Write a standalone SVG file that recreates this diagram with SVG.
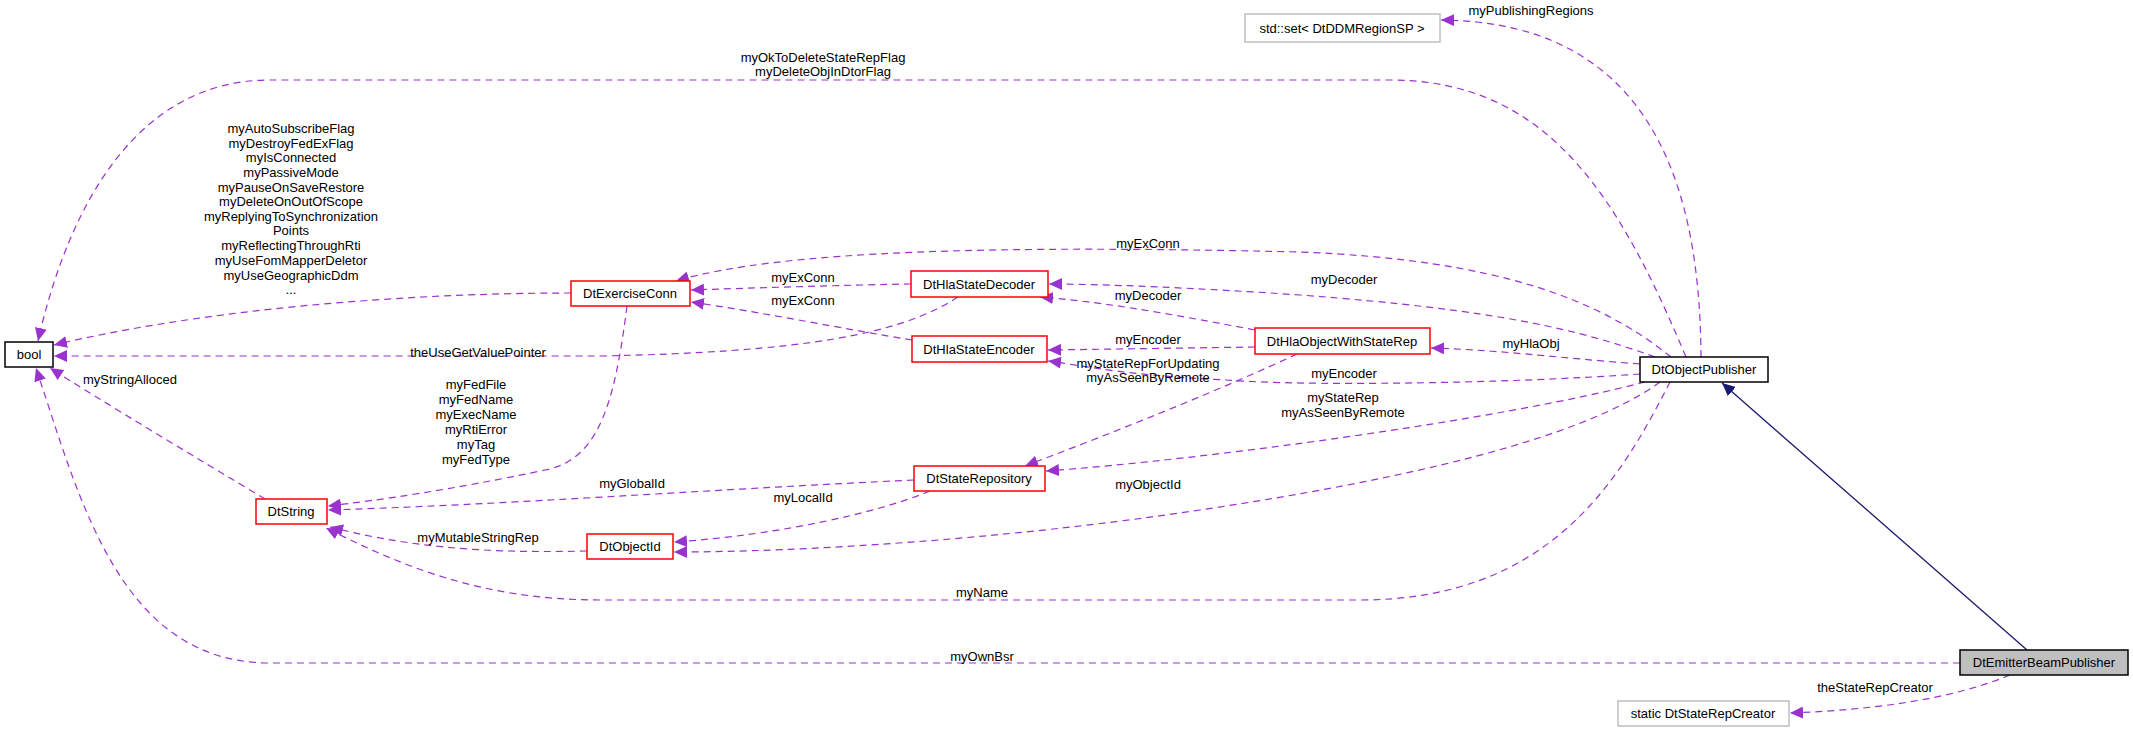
<svg xmlns="http://www.w3.org/2000/svg" width="2133" height="732" viewBox="0 0 2133 732">
<style>
text{font-family:"Liberation Sans",Arial,sans-serif;font-size:13px;fill:#000}
.n text,.lbl{text-anchor:middle}
.nb{fill:#fff;stroke:#000;stroke-width:1.5}
.nr{fill:#fff;stroke:#ff0000;stroke-width:1.5}
.ng{fill:#fff;stroke:#bfbfbf;stroke-width:1.5}
.ns{fill:#bfbfbf;stroke:#000;stroke-width:1.5}
.e{fill:none;stroke:#9a32cd;stroke-width:1.2;stroke-dasharray:7,5;marker-end:url(#ap)}
.inh{fill:none;stroke:#191970;stroke-width:1.3;marker-end:url(#an)}
</style>
<defs>
<marker id="ap" markerUnits="userSpaceOnUse" markerWidth="14" markerHeight="12" refX="13" refY="6" orient="auto"><path d="M0,0 L13,6 L0,12 Z" fill="#9a32cd"/></marker>
<marker id="an" markerUnits="userSpaceOnUse" markerWidth="14" markerHeight="12" refX="13" refY="6" orient="auto"><path d="M0,0 L13,6 L0,12 Z" fill="#191970"/></marker>
</defs>
<rect width="2133" height="732" fill="#fff"/>
<g id="connectors">
<path class="e" d="M1686,357 C1620,200 1550,80 1390,80 L270,80 C140,80 70,200 38,341"/>
<path class="e" d="M1701,357 C1700,200 1660,22 1441,20"/>
<path class="e" d="M571,293 C400,293 200,310 54,345"/>
<path class="e" d="M958,297 C900,335 800,352 600,356 L54,356"/>
<path class="e" d="M265,499 C200,460 100,400 50,368"/>
<path class="e" d="M627,306 C615,400 600,460 545,470 C450,490 380,500 328,506"/>
<path class="e" d="M914,480 C700,490 500,505 328,510"/>
<path class="e" d="M587,551 C500,553 420,550 330,527"/>
<path class="e" d="M1670,382 C1620,480 1550,600 1360,600 L600,600 C480,600 400,565 326,528"/>
<path class="e" d="M1960,663 L270,663 C120,663 80,500 36,368"/>
<path class="e" d="M911,284 C850,285 750,288 691,290"/>
<path class="e" d="M912,340 C850,330 760,312 691,302"/>
<path class="e" d="M1671,357 C1600,300 1500,260 1300,252 C1000,245 780,250 676,281"/>
<path class="e" d="M1655,357 C1580,330 1500,310 1300,295 C1200,288 1100,284 1049,284"/>
<path class="e" d="M1255,330 C1150,310 1100,302 1040,297"/>
<path class="e" d="M1640,364 C1560,358 1500,350 1431,348"/>
<path class="e" d="M1255,347 L1048,350"/>
<path class="e" d="M1640,374 C1500,384 1300,386 1226,380 C1120,375 1080,365 1048,361"/>
<path class="e" d="M1297,354 C1220,390 1120,430 1025,466"/>
<path class="e" d="M1645,382 C1500,420 1200,460 1046,471"/>
<path class="e" d="M1660,382 C1580,440 1400,480 1200,510 C1000,540 800,552 674,552"/>
<path class="e" d="M930,491 C880,512 780,535 674,542"/>
<path class="inh" d="M2027,650 L1722,383"/>
<path class="e" d="M2010,675 C1950,700 1870,710 1790,713"/>
</g>
<g id="labels">
<text class="lbl" x="823" y="62">myOkToDeleteStateRepFlag</text>
<text class="lbl" x="823" y="76">myDeleteObjInDtorFlag</text>
<text class="lbl" x="1531" y="15">myPublishingRegions</text>
<text class="lbl"><tspan x="291" y="133">myAutoSubscribeFlag</tspan><tspan x="291" y="148">myDestroyFedExFlag</tspan><tspan x="291" y="162">myIsConnected</tspan><tspan x="291" y="177">myPassiveMode</tspan><tspan x="291" y="192">myPauseOnSaveRestore</tspan><tspan x="291" y="206">myDeleteOnOutOfScope</tspan><tspan x="291" y="221">myReplyingToSynchronization</tspan><tspan x="291" y="235">Points</tspan><tspan x="291" y="250">myReflectingThroughRti</tspan><tspan x="291" y="265">myUseFomMapperDeletor</tspan><tspan x="291" y="280">myUseGeographicDdm</tspan><tspan x="291" y="294">...</tspan></text>
<text class="lbl" x="478" y="357">theUseGetValuePointer</text>
<text x="83" y="384">myStringAlloced</text>
<text class="lbl"><tspan x="476" y="389">myFedFile</tspan><tspan x="476" y="404">myFedName</tspan><tspan x="476" y="419">myExecName</tspan><tspan x="476" y="434">myRtiError</tspan><tspan x="476" y="449">myTag</tspan><tspan x="476" y="464">myFedType</tspan></text>
<text class="lbl" x="632" y="488">myGlobalId</text>
<text class="lbl" x="478" y="542">myMutableStringRep</text>
<text class="lbl" x="982" y="597">myName</text>
<text class="lbl" x="982" y="661">myOwnBsr</text>
<text class="lbl" x="1148" y="248">myExConn</text>
<text class="lbl" x="803" y="282">myExConn</text>
<text class="lbl" x="803" y="305">myExConn</text>
<text class="lbl" x="1344" y="284">myDecoder</text>
<text class="lbl" x="1148" y="300">myDecoder</text>
<text class="lbl" x="1148" y="344">myEncoder</text>
<text class="lbl" x="1148" y="368">myStateRepForUpdating</text>
<text class="lbl" x="1148" y="382">myAsSeenByRemote</text>
<text class="lbl" x="1344" y="378">myEncoder</text>
<text class="lbl" x="1343" y="402">myStateRep</text>
<text class="lbl" x="1343" y="417">myAsSeenByRemote</text>
<text class="lbl" x="803" y="502">myLocalId</text>
<text class="lbl" x="1148" y="489">myObjectId</text>
<text class="lbl" x="1531" y="348">myHlaObj</text>
<text class="lbl" x="1875" y="692">theStateRepCreator</text>
</g>
<g id="bool" class="n"><rect class="nb" x="5" y="342" width="48" height="25"/><text x="29" y="359">bool</text></g>
<g id="DtExerciseConn" class="n"><rect class="nr" x="571" y="281" width="119" height="25"/><text x="630" y="298">DtExerciseConn</text></g>
<g id="DtString" class="n"><rect class="nr" x="256" y="499" width="71" height="25"/><text x="291" y="516">DtString</text></g>
<g id="DtObjectId" class="n"><rect class="nr" x="587" y="534" width="86" height="25"/><text x="630" y="551">DtObjectId</text></g>
<g id="DtHlaStateDecoder" class="n"><rect class="nr" x="911" y="271" width="137" height="26"/><text x="979" y="289">DtHlaStateDecoder</text></g>
<g id="DtHlaStateEncoder" class="n"><rect class="nr" x="912" y="336" width="135" height="26"/><text x="979" y="354">DtHlaStateEncoder</text></g>
<g id="DtHlaObjectWithStateRep" class="n"><rect class="nr" x="1255" y="328" width="175" height="26"/><text x="1342" y="346">DtHlaObjectWithStateRep</text></g>
<g id="DtStateRepository" class="n"><rect class="nr" x="914" y="466" width="131" height="25"/><text x="979" y="483">DtStateRepository</text></g>
<g id="stdset" class="n"><rect class="ng" x="1245" y="14" width="195" height="28"/><text x="1342" y="33">std::set&lt; DtDDMRegionSP &gt;</text></g>
<g id="DtObjectPublisher" class="n"><rect class="nb" x="1640" y="357" width="128" height="25"/><text x="1704" y="374">DtObjectPublisher</text></g>
<g id="DtEmitterBeamPublisher" class="n"><rect class="ns" x="1960" y="650" width="168" height="25"/><text x="2044" y="667">DtEmitterBeamPublisher</text></g>
<g id="DtStateRepCreator" class="n"><rect class="ng" x="1618" y="701" width="171" height="25"/><text x="1703" y="718">static DtStateRepCreator</text></g>
</svg>
